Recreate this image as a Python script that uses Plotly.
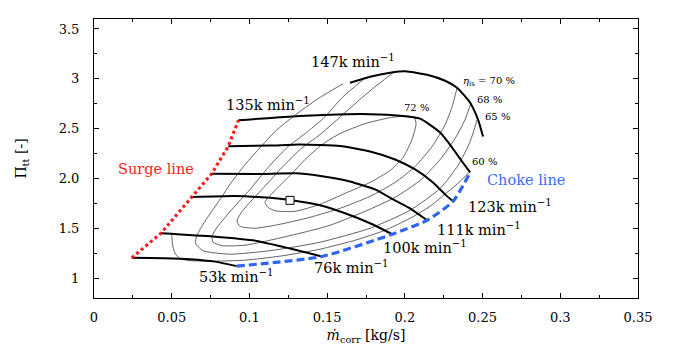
import plotly.graph_objects as go

# ---------------- data ----------------
# speed lines: corrected mass flow [kg/s] and total pressure ratio [-]
n53_x = [0.0243, 0.045, 0.062, 0.078, 0.0918]
n53_y = [1.203, 1.200, 1.19, 1.165, 1.12]

n76_x = [0.0431, 0.0766, 0.1047, 0.1261, 0.1467]
n76_y = [1.45, 1.417, 1.373, 1.297, 1.217]

n100_x = [0.0629, 0.0907, 0.1133, 0.1261, 0.1454, 0.1615, 0.1776, 0.1918]
n100_y = [1.813, 1.823, 1.805, 1.783, 1.73, 1.65, 1.55, 1.44]

n111_x = [0.0757, 0.1068, 0.1326, 0.1519, 0.1647, 0.1808, 0.1924, 0.2033, 0.2143]
n111_y = [2.047, 2.045, 2.05, 2.01, 1.97, 1.89, 1.79, 1.70, 1.58]

n123_x = [0.0864, 0.1133, 0.1326, 0.1583, 0.1776, 0.1937, 0.2066, 0.2181, 0.2259, 0.2310]
n123_y = [2.323, 2.33, 2.34, 2.325, 2.27, 2.19, 2.09, 1.96, 1.84, 1.77]

n135_x = [0.0929, 0.1197, 0.1519, 0.1776, 0.1969, 0.2098, 0.2227, 0.2304, 0.2368, 0.2420]
n135_y = [2.583, 2.615, 2.64, 2.645, 2.63, 2.60, 2.46, 2.31, 2.17, 2.06]

n147_x = [0.1647, 0.1776, 0.1924, 0.2001, 0.2143, 0.2259, 0.2336, 0.2420, 0.2471, 0.2503]
n147_y = [2.96, 3.02, 3.065, 3.075, 3.04, 2.98, 2.91, 2.76, 2.59, 2.42]

speed_names = ["53k", "76k", "100k", "111k", "123k", "135k", "147k"]

# isentropic efficiency iso-lines
eta72_x = [0.1100, 0.1120, 0.1165, 0.1293, 0.1454, 0.1615, 0.1776, 0.1905, 0.1988, 0.2046,
           0.2072, 0.2059, 0.2001, 0.1905, 0.1744, 0.1583, 0.1467, 0.1358, 0.1261, 0.1165, 0.1100]
eta72_y = [1.76, 1.71, 1.675, 1.67, 1.74, 1.85, 1.96, 2.08, 2.21, 2.39,
           2.55, 2.615, 2.625, 2.61, 2.55, 2.45, 2.34, 2.19, 2.03, 1.88, 1.76]

eta70_x = [0.1924, 0.1776, 0.1615, 0.1454, 0.1326, 0.1197, 0.1081, 0.0991, 0.0940, 0.0920, 0.0940,
           0.1036, 0.1197, 0.1390, 0.1583, 0.1776, 0.1937, 0.2066, 0.2175, 0.2259, 0.2304, 0.2336]
eta70_y = [3.06, 2.88, 2.66, 2.44, 2.29, 2.09, 1.89, 1.74, 1.64, 1.57, 1.52,
           1.50, 1.54, 1.61, 1.70, 1.82, 1.96, 2.12, 2.32, 2.54, 2.72, 2.91]

eta68_x = [0.1731, 0.1602, 0.1474, 0.1358, 0.1242, 0.1120, 0.1004, 0.0888, 0.0792, 0.0759, 0.0766, 0.0824,
           0.0972, 0.1133, 0.1326, 0.1519, 0.1744, 0.1937, 0.2098, 0.2227, 0.2323, 0.2387, 0.2426]
eta68_y = [2.99, 2.82, 2.60, 2.45, 2.31, 2.11, 1.89, 1.69, 1.51, 1.42, 1.36, 1.325,
           1.33, 1.38, 1.45, 1.53, 1.67, 1.81, 1.98, 2.19, 2.40, 2.59, 2.76]

eta65_x = [0.1602, 0.1441, 0.1281, 0.1171, 0.1075, 0.0972, 0.0875, 0.0798, 0.0714, 0.0663, 0.0653,
           0.0701, 0.0875, 0.1133, 0.1454, 0.1776, 0.2033, 0.2227, 0.2342, 0.2420, 0.2465]
eta65_y = [2.95, 2.80, 2.62, 2.48, 2.32, 2.14, 1.94, 1.76, 1.57, 1.43, 1.35,
           1.275, 1.24, 1.275, 1.36, 1.50, 1.68, 1.90, 2.13, 2.37, 2.59]

eta60_x = [0.0500, 0.0505, 0.0521, 0.0553, 0.0618, 0.0779, 0.0972, 0.1197, 0.1454, 0.1680,
           0.1873, 0.2033, 0.2162, 0.2272, 0.2355, 0.2413]
eta60_y = [1.44, 1.34, 1.25, 1.195, 1.175, 1.17, 1.18, 1.22, 1.29, 1.38,
           1.48, 1.60, 1.72, 1.86, 1.97, 2.06]

# design point
design_x = [0.1261]
design_y = [1.78]

x_tickvals = [0, 0.05, 0.1, 0.15, 0.2, 0.25, 0.3, 0.35]
x_ticktext = ["0", "0.05", "0.1", "0.15", "0.2", "0.25", "0.3", "0.35"]
y_tickvals = [1, 1.5, 2, 2.5, 3, 3.5]
y_ticktext = ["1", "1.5", "2.0", "2.5", "3", "3.5"]

# ---------------- figure ----------------
FONT = "DejaVu Serif"
fig = go.Figure()

contours = [(eta72_x, eta72_y), (eta70_x, eta70_y), (eta68_x, eta68_y),
            (eta65_x, eta65_y), (eta60_x, eta60_y)]
for cx, cy in contours:
    fig.add_trace(go.Scatter(x=cx, y=cy, mode="lines",
                             line=dict(color="#3c3c3c", width=0.8, shape="spline", smoothing=0.6),
                             hoverinfo="skip", showlegend=False))

speeds = [(n53_x, n53_y), (n76_x, n76_y), (n100_x, n100_y), (n111_x, n111_y),
          (n123_x, n123_y), (n135_x, n135_y), (n147_x, n147_y)]
for (sx, sy), name in zip(speeds, speed_names):
    fig.add_trace(go.Scatter(x=sx, y=sy, mode="lines", name=name,
                             line=dict(color="black", width=2, shape="spline", smoothing=0.5),
                             showlegend=False))

# surge and choke lines through the speed-line end points
surge_x = [s[0][0] for s in speeds[:6]]
surge_y = [s[1][0] for s in speeds[:6]]
choke_x = [s[0][-1] for s in speeds[:6]]
choke_y = [s[1][-1] for s in speeds[:6]]

fig.add_trace(go.Scatter(x=surge_x, y=surge_y, mode="lines",
                         line=dict(color="#ff1a1a", width=3.2, dash="3px,3px"),
                         showlegend=False))
fig.add_trace(go.Scatter(x=choke_x, y=choke_y, mode="lines",
                         line=dict(color="#2f64f5", width=3.2, dash="8px,4px", shape="spline", smoothing=0.6),
                         showlegend=False))

fig.add_trace(go.Scatter(x=design_x, y=design_y, mode="markers",
                         marker=dict(symbol="square", size=8, color="white",
                                     line=dict(color="black", width=1)),
                         showlegend=False))

def ann(x, y, text, size=14.5, color="black"):
    fig.add_annotation(x=x, y=y, text=text, showarrow=False, xref="x", yref="y",
                       font=dict(family=FONT, size=size, color=color))

ann(0.1667, 3.18, "147k min<sup>−1</sup>")
ann(0.1120, 2.75, "135k min<sup>−1</sup>")
ann(0.2677, 1.72, "123k min<sup>−1</sup>")
ann(0.2477, 1.49, "111k min<sup>−1</sup>")
ann(0.2130, 1.31, "100k min<sup>−1</sup>")
ann(0.1654, 1.11, "76k min<sup>−1</sup>")
ann(0.0920, 1.02, "53k min<sup>−1</sup>")
ann(0.0399, 2.09, "Surge line", color="#ff1a1a")
ann(0.2780, 1.98, "Choke line", color="#3b6cf5")
ann(0.2542, 2.97, "<i>η</i><sub>is</sub> = 70 %", size=10)
ann(0.2542, 2.79, "68 %", size=10)
ann(0.2593, 2.62, "65 %", size=10)
ann(0.2072, 2.71, "72 %", size=10)
ann(0.2510, 2.17, "60 %", size=10)

axis_common = dict(showline=True, linecolor="black", linewidth=1, mirror="allticks",
                   ticks="inside", ticklen=5, tickcolor="black", tickwidth=1,
                   showgrid=False, zeroline=False, automargin=False,
                   tickfont=dict(family=FONT, size=13, color="black"))

fig.update_xaxes(range=[0, 0.35], tickmode="array", tickvals=x_tickvals, ticktext=x_ticktext,
                 ticklabelstandoff=7,
                 minor=dict(ticks="inside", ticklen=3, tickcolor="black", tickmode="linear",
                            tick0=0, dtick=0.025, showgrid=False),
                 title=dict(text="<i>ṁ</i><sub>corr</sub> [kg/s]", standoff=6,
                            font=dict(family=FONT, size=14, color="black")),
                 **axis_common)
fig.update_yaxes(range=[0.8, 3.6], tickmode="array", tickvals=y_tickvals, ticktext=y_ticktext,
                 ticklabelstandoff=11,
                 minor=dict(ticks="inside", ticklen=3, tickcolor="black", tickmode="linear",
                            tick0=0, dtick=0.25, showgrid=False),
                 title=dict(text="Π<sub>tt</sub> [-]", standoff=28,
                            font=dict(family=FONT, size=14, color="black")),
                 **axis_common)

fig.update_layout(width=677, height=350, margin=dict(l=86, r=47, t=11, b=60),
                  font=dict(family=FONT),
                  plot_bgcolor="white", paper_bgcolor="white", showlegend=False)

fig.write_html("out.html")
